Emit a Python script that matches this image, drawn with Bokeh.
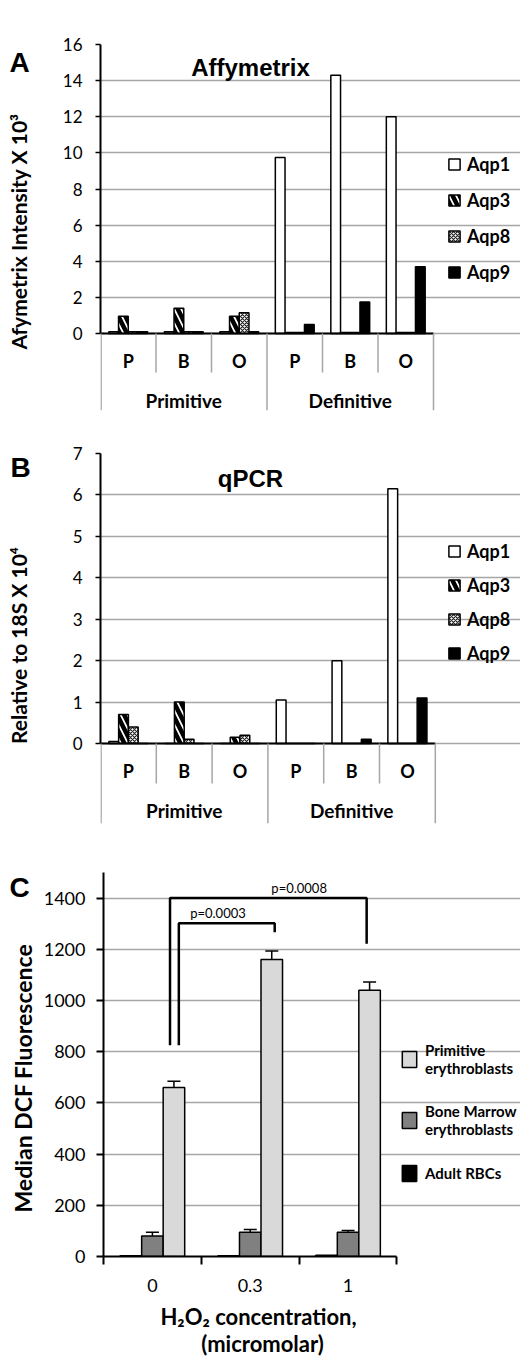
import numpy as np
from bokeh.plotting import figure
from bokeh.layouts import column, row
from bokeh.models import (Range1d, FixedTicker, Legend, LegendItem,
                          ColumnDataSource, Whisker, TeeHead)
from bokeh.embed import file_html
from bokeh.resources import INLINE
from bokeh.core.properties import value

# ---------------- data ----------------
genes = ["Aqp1", "Aqp3", "Aqp8", "Aqp9"]
tissues = ["P", "B", "O", "P", "B", "O"]
stages = ["Primitive", "Definitive"]

affy_aqp1 = [0.1, 0.1, 0.1, 9.75, 14.3, 12.0]
affy_aqp3 = [0.95, 1.4, 0.95, 0.05, 0.05, 0.05]
affy_aqp8 = [0.1, 0.1, 1.15, 0.05, 0.05, 0.05]
affy_aqp9 = [0.1, 0.1, 0.1, 0.5, 1.75, 3.7]

qpcr_aqp1 = [0.05, 0.0, 0.0, 1.05, 2.0, 6.15]
qpcr_aqp3 = [0.7, 1.0, 0.15, 0.0, 0.0, 0.0]
qpcr_aqp8 = [0.4, 0.1, 0.2, 0.0, 0.0, 0.0]
qpcr_aqp9 = [0.0, 0.0, 0.0, 0.0, 0.1, 1.1]

h2o2_labels = ["0", "0.3", "1"]
cell_types = ["Primitive\nerythroblasts", "Bone Marrow\nerythroblasts", "Adult RBCs"]
adult_rbc = [3, 3, 5]
bm_ery = [80, 95, 95]
bm_err = [15, 10, 7]
prim_ery = [660, 1160, 1040]
prim_err = [25, 33, 32]

p_labels = ["p=0.0003", "p=0.0008"]
bracket_low = [825, 825]
bracket_top = [1302, 1400]
bracket_right_low = [1267, 1222]

FONT = "Lato"
TFONT = "Liberation Sans"
GRID = "#a6a6a6"

gene_styles = [
    dict(fill_color="white", hatch_pattern=None),
    dict(fill_color="white", hatch_pattern="\\", hatch_color="black", hatch_scale=14, hatch_weight=4.5),
    dict(fill_color="white", hatch_pattern="x", hatch_color="#222222", hatch_scale=4, hatch_weight=1.2),
    dict(fill_color="black", hatch_pattern=None),
]


def side_strip(width, top_ref, bottom_ref, left_ref=0):
    """A plain figure whose data coordinates are page pixels (y negated)."""
    s = figure(width=width, height=bottom_ref - top_ref,
               x_range=Range1d(left_ref, left_ref + width),
               y_range=Range1d(-bottom_ref, -top_ref),
               x_axis_location=None, y_axis_location=None,
               min_border=0, toolbar_location=None, output_backend="svg")
    s.outline_line_color = None
    s.grid.visible = False
    return s


def letter_and_ylabel(s, letter, letter_ref, ylabel, ylab_ref, ysize):
    s.text(x=[letter_ref[0]], y=[-letter_ref[1]], text=[letter], text_font=value(TFONT),
           text_font_style="bold", text_font_size="28px", text_align="center",
           text_baseline="middle", text_color="black")
    s.text(x=[ylab_ref[0]], y=[-ylab_ref[1]], text=[ylabel], text_font=value(FONT),
           text_font_style="bold", text_font_size=ysize, text_align="center",
           text_baseline="middle", text_color="black", angle=np.pi / 2)


def make_gene_panel(series, ymax, ystep, top_ref, bottom_ref, frame_top_ref,
                    zero_ref, frame_bottom_ref, xunit, letter, title, ylabel,
                    leg_loc, leg_spacing, letter_ref, title_ref, ylab_ref,
                    cat_ref, sep_ref, grp_ref, ysize):
    fig_h = bottom_ref - top_ref
    px_per_unit = (zero_ref - frame_top_ref) / ymax
    frame_h = frame_bottom_ref - frame_top_ref
    ymin = ymax - frame_h / px_per_unit
    left_w = 40
    frame_left = 100
    main_w = 520 - left_w
    frame_w = 520 - frame_left
    p = figure(width=main_w, height=fig_h, x_range=Range1d(0, frame_w / xunit),
               y_range=Range1d(ymin, ymax), x_axis_location=None,
               min_border_left=frame_left - left_w, min_border_right=0,
               min_border_top=frame_top_ref - top_ref,
               min_border_bottom=bottom_ref - frame_bottom_ref,
               toolbar_location=None, output_backend="svg")
    p.outline_line_color = None
    p.xgrid.visible = False

    def ry(ref_y):
        return (zero_ref - ref_y) / px_per_unit

    def rx(ref_x):
        return (ref_x - frame_left) / xunit

    p.yaxis.ticker = FixedTicker(ticks=list(np.arange(0, ymax + 0.001, ystep)))
    p.ygrid.bounds = (0, 6)
    p.ygrid.grid_line_color = GRID
    p.ygrid.grid_line_width = 1.5

    ax = p.yaxis[0]
    ax.bounds = (0, ymax)
    ax.axis_line_width = 2
    ax.axis_line_color = "black"
    ax.major_tick_out = 5
    ax.major_tick_in = 0
    ax.major_tick_line_width = 1.5
    ax.minor_tick_line_color = None
    ax.major_label_standoff = 13
    ax.major_label_text_font = FONT
    ax.major_label_text_font_size = "17px"
    ax.major_label_text_color = "black"

    centers = np.arange(6) + 0.5
    bw = 0.175
    offsets = [-1.5 * bw, -0.5 * bw, 0.5 * bw, 1.5 * bw]
    renderers = []
    for vals, off, st in zip(series, offsets, gene_styles):
        r = p.vbar(x=centers + off, top=vals, bottom=0, width=bw,
                   line_color="black", line_width=1.5, **st)
        renderers.append(r)

    p.segment(x0=[0], y0=[0], x1=[6], y1=[0], line_color="black", line_width=2)
    p.segment(x0=[1, 2, 4, 5], y0=0, x1=[1, 2, 4, 5], y1=ry(sep_ref),
              line_color=GRID, line_width=1.5)
    p.segment(x0=[0.01, 3, 6], y0=0, x1=[0.01, 3, 6], y1=ymin,
              line_color=GRID, line_width=1.5)

    p.text(x=centers, y=ry(cat_ref), text=tissues, text_font=value(FONT),
           text_font_style="bold", text_font_size="18px", text_align="center",
           text_baseline="middle", text_color="black")
    p.text(x=[1.5, 4.5], y=ry(grp_ref), text=stages, text_font=value(FONT),
           text_font_style="bold", text_font_size="19px", text_align="center",
           text_baseline="middle", text_color="black")
    p.text(x=[rx(title_ref[0])], y=[ry(title_ref[1])], text=[title],
           text_font=value(TFONT), text_font_style="bold", text_font_size="24px",
           text_align="center", text_baseline="middle", text_color="black")

    items = [LegendItem(label=g, renderers=[r]) for g, r in zip(genes, renderers)]
    leg = Legend(items=items, location=leg_loc, glyph_width=14, glyph_height=14,
                 label_text_font=FONT, label_text_font_style="bold",
                 label_text_font_size="18px", label_text_color="black",
                 label_height=22, spacing=leg_spacing,
                 padding=0, margin=0, label_standoff=6, border_line_alpha=0,
                 background_fill_alpha=0)
    p.add_layout(leg)

    s = side_strip(left_w, top_ref, bottom_ref)
    letter_and_ylabel(s, letter, letter_ref, ylabel, ylab_ref, ysize)
    return row(s, p, spacing=0)


panel_a = make_gene_panel([affy_aqp1, affy_aqp3, affy_aqp8, affy_aqp9], ymax=16, ystep=2,
                          top_ref=0, bottom_ref=415, frame_top_ref=44, zero_ref=333,
                          frame_bottom_ref=410, xunit=55.5, letter="A",
                          title="Affymetrix", ylabel="Afymetrix Intensity X 10\u00b3",
                          leg_loc=(347, 127), leg_spacing=14,
                          letter_ref=(19, 20), title_ref=(250, 67), ylab_ref=(18, 212),
                          cat_ref=360, sep_ref=372, grp_ref=400, ysize="21px")

panel_b = make_gene_panel([qpcr_aqp1, qpcr_aqp3, qpcr_aqp8, qpcr_aqp9], ymax=7, ystep=1,
                          top_ref=415, bottom_ref=835, frame_top_ref=453, zero_ref=743,
                          frame_bottom_ref=823, xunit=55.8, letter="B",
                          title="qPCR", ylabel="Relative to 18S X 10\u2074",
                          leg_loc=(347, 159), leg_spacing=12,
                          letter_ref=(20, 431), title_ref=(250, 478), ylab_ref=(18, 633),
                          cat_ref=770, sep_ref=783, grp_ref=810, ysize="21px")

# ---------------- Panel C ----------------
c_top, c_frame_top, c_zero, c_bottom, c_end = 835, 872, 1256, 1300, 1357
cx_unit = 99.0
c_left = 98
left_w = 40
pc = figure(width=520 - left_w, height=c_bottom - c_top,
            x_range=Range1d(0, (520 - c_left) / cx_unit), y_range=Range1d(0, 1500),
            min_border_left=c_left - left_w, min_border_right=0,
            min_border_top=c_frame_top - c_top, min_border_bottom=c_bottom - c_zero,
            toolbar_location=None, output_backend="svg")
pc.outline_line_color = None
pc.xgrid.visible = False
pc.yaxis.ticker = FixedTicker(ticks=list(range(0, 1401, 200)))
pc.ygrid.bounds = (0, 3)
pc.ygrid.grid_line_color = GRID
pc.ygrid.grid_line_width = 1.5

yax = pc.yaxis[0]
yax.axis_line_width = 2
yax.major_tick_out = 7
yax.major_tick_in = 0
yax.major_tick_line_width = 2
yax.minor_tick_line_color = None
yax.major_label_standoff = 11
yax.major_label_text_font = FONT
yax.major_label_text_font_size = "18px"
yax.major_label_text_color = "black"

xc = np.arange(3) + 0.5
xax = pc.xaxis[0]
xax.ticker = FixedTicker(ticks=list(xc), minor_ticks=[0, 1, 2, 3])
xax.major_label_overrides = {float(x): lab for x, lab in zip(xc, h2o2_labels)}
xax.bounds = (0, 3)
xax.axis_line_width = 2
xax.major_tick_line_color = None
xax.minor_tick_out = 8
xax.minor_tick_in = 0
xax.minor_tick_line_width = 2
xax.minor_tick_line_color = "black"
xax.major_label_standoff = 14
xax.major_label_text_font = FONT
xax.major_label_text_font_size = "18px"
xax.major_label_text_color = "black"

bwc = 0.22
r_adult = pc.vbar(x=xc - bwc, top=adult_rbc, width=bwc, fill_color="black",
                  line_color="black", line_width=1.5)
r_bm = pc.vbar(x=xc, top=bm_ery, width=bwc, fill_color="#808080",
               line_color="black", line_width=1.5)
r_prim = pc.vbar(x=xc + bwc, top=prim_ery, width=bwc, fill_color="#d9d9d9",
                 line_color="black", line_width=1.5)

err_src = ColumnDataSource(dict(
    x=list(xc) + list(xc + bwc),
    upper=[v + e for v, e in zip(bm_ery, bm_err)] + [v + e for v, e in zip(prim_ery, prim_err)],
    lower=[v - e for v, e in zip(bm_ery, bm_err)] + [v - e for v, e in zip(prim_ery, prim_err)],
))
pc.add_layout(Whisker(source=err_src, base="x", upper="upper", lower="lower",
                      line_width=1.5, line_color="black",
                      upper_head=TeeHead(size=13, line_width=1.5, line_color="black"),
                      lower_head=TeeHead(size=13, line_width=1.5, line_color="black")))

# significance brackets (from the 0 group to the 0.3 and 1 groups)
left_x = [xc[0] + 0.27, xc[0] + 0.18]
right_x = [xc[1] + 0.25, xc[2] + 0.19]
label_x = [xc[0] + 0.67, xc[1] + 0.5]
xs = [[lx, lx, rx_, rx_] for lx, rx_ in zip(left_x, right_x)]
ys = [[lo, tp, tp, rl] for lo, tp, rl in zip(bracket_low, bracket_top, bracket_right_low)]
pc.multi_line(xs=xs, ys=ys, line_color="black", line_width=2.5)
pc.text(x=label_x, y=[t + 41 for t in bracket_top], text=p_labels,
        text_font=value(FONT), text_font_size="13px", text_align="center",
        text_baseline="middle", text_color="black")

leg_c = Legend(items=[LegendItem(label=cell_types[0], renderers=[r_prim]),
                      LegendItem(label=cell_types[1], renderers=[r_bm]),
                      LegendItem(label=cell_types[2], renderers=[r_adult])],
               location=(297, 73), glyph_width=18, glyph_height=20,
               label_text_font=FONT, label_text_font_style="bold",
               label_text_font_size="15px", label_text_color="black",
               label_height=20, spacing=25,
               padding=0, margin=0, label_standoff=7, border_line_alpha=0,
               background_fill_alpha=0)
pc.add_layout(leg_c)

sc = side_strip(left_w, c_top, c_bottom)
letter_and_ylabel(sc, "C", (19, 853), "Median DCF Fluorescence", (22, 1084), "23px")

strip = side_strip(520, c_bottom, c_end)
strip.text(x=[258, 262], y=[-1316, -1343],
           text=["H\u2082O\u2082 concentration,", "(micromolar)"],
           text_font=value(FONT), text_font_style="bold", text_font_size="22px",
           text_align="center", text_baseline="middle", text_color="black")

panel_c = column(row(sc, pc, spacing=0), strip, spacing=0)

layout = column(panel_a, panel_b, panel_c, spacing=0)
open("out.html", "w").write(file_html(layout, INLINE))
